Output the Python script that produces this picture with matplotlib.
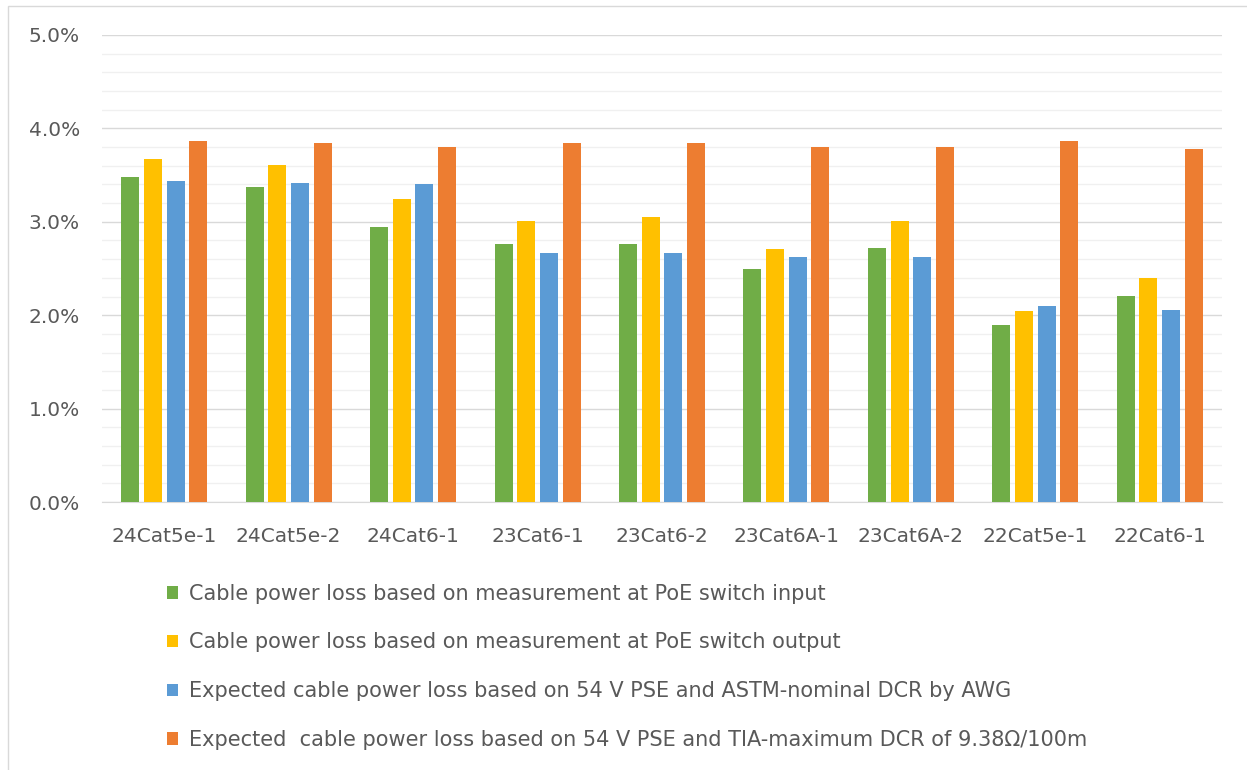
import matplotlib
matplotlib.use("Agg")
import matplotlib.pyplot as plt
import numpy as np
from matplotlib.ticker import MultipleLocator, PercentFormatter

categories = ["24Cat5e-1", "24Cat5e-2", "24Cat6-1", "23Cat6-1", "23Cat6-2",
              "23Cat6A-1", "23Cat6A-2", "22Cat5e-1", "22Cat6-1"]
loss_input = [3.48, 3.37, 2.94, 2.76, 2.76, 2.49, 2.72, 1.89, 2.21]
loss_output = [3.67, 3.61, 3.24, 3.01, 3.05, 2.71, 3.01, 2.04, 2.40]
loss_astm = [3.44, 3.42, 3.40, 2.67, 2.67, 2.62, 2.62, 2.10, 2.06]
loss_tia = [3.87, 3.84, 3.80, 3.84, 3.84, 3.80, 3.80, 3.86, 3.78]
labels = ["Cable power loss based on measurement at PoE switch input",
          "Cable power loss based on measurement at PoE switch output",
          "Expected cable power loss based on 54 V PSE and ASTM-nominal DCR by AWG",
          "Expected  cable power loss based on 54 V PSE and TIA-maximum DCR of 9.38\u03a9/100m"]
colors = ["#70ad47", "#ffc000", "#5b9bd5", "#ed7d31"]

fig = plt.figure(figsize=(12.47, 7.70), dpi=100)
ax = fig.add_axes([102/1247, 1-502/770, 1120/1247, 467/770])

x = np.arange(len(categories))
step = 0.182
width = 0.145
series = [loss_input, loss_output, loss_astm, loss_tia]
handles = []
for i, vals in enumerate(series):
    b = ax.bar(x + (i - 1.5)*step, vals, width, color=colors[i], label=labels[i], zorder=3)
    handles.append(b)

ax.set_xlim(-0.5, len(categories) - 0.5)
ax.set_ylim(0, 5.0)
ax.yaxis.set_major_locator(MultipleLocator(1.0))
ax.yaxis.set_minor_locator(MultipleLocator(0.2))
ax.yaxis.set_major_formatter(PercentFormatter(decimals=1))
ax.grid(axis="y", which="minor", color="#f0f0f0", lw=1, zorder=0)
ax.grid(axis="y", which="major", color="#d9d9d9", lw=1, zorder=1)
ax.set_xticks(x)
ax.set_xticklabels(categories)
ax.tick_params(which="both", length=0, colors="#595959", labelsize=14.5)
ax.tick_params(axis="x", pad=18)
ax.tick_params(axis="y", pad=16)
for s in ["top", "left", "right"]:
    ax.spines[s].set_visible(False)
ax.spines["bottom"].set_color("#d9d9d9")

leg = fig.legend(handles=handles, loc="upper left", bbox_to_anchor=(148/1247, 1-565/770),
                 frameon=False, fontsize=15, handlelength=0.55, handleheight=0.55,
                 handletextpad=0.5, labelspacing=1.38, labelcolor="#595959")

# chart border
fig.patches.append(plt.Rectangle((8/1247, -0.01), 1.1, 1-6/770 + 0.01, transform=fig.transFigure,
                                 fill=False, edgecolor="#d9d9d9", lw=1))

fig.savefig("out.png", dpi=100)
